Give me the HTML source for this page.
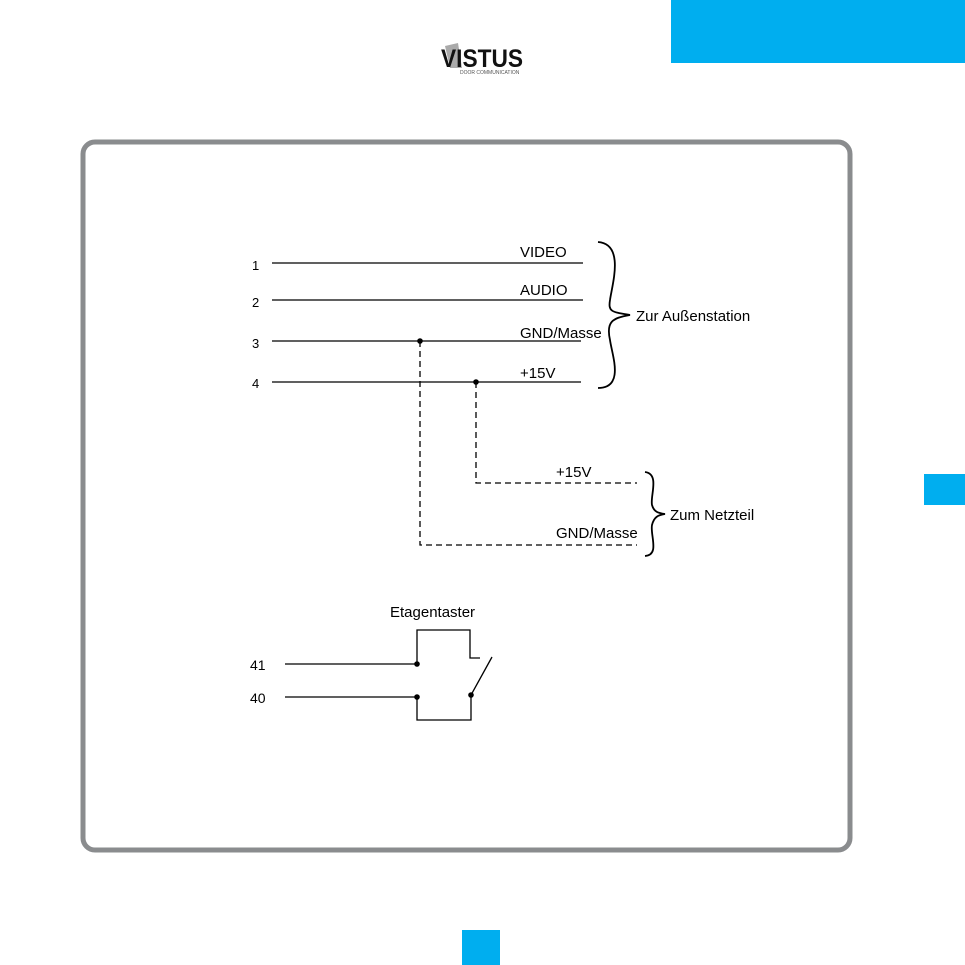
<!DOCTYPE html>
<html><head><style>
body{margin:0;width:965px;height:965px;background:#fff;overflow:hidden;position:relative;font-family:"Liberation Sans",sans-serif}
</style></head><body>
<div style="position:absolute;left:671px;top:0;width:294px;height:63px;background:#00aeef"></div>
<div style="position:absolute;left:924px;top:474px;width:41px;height:31px;background:#00aeef"></div>
<div style="position:absolute;left:462px;top:930px;width:38px;height:35px;background:#00aeef"></div>
<svg width="965" height="965" style="position:absolute;left:0;top:0" font-family="Liberation Sans, sans-serif">
<polygon points="445,46 458,43 462,68 450,68" fill="#aaa"/>
<text x="441" y="67" font-size="25" font-weight="bold" fill="#111" textLength="82" lengthAdjust="spacingAndGlyphs">VISTUS</text>
<text x="460" y="74" font-size="5" fill="#555">DOOR COMMUNICATION</text>
<rect x="83" y="142" width="767" height="708" rx="12" fill="none" stroke="#8a8c8e" stroke-width="5"/>
<g stroke="#000" stroke-width="1.3" fill="none">
<line x1="272" y1="263" x2="583" y2="263"/>
<line x1="272" y1="300" x2="583" y2="300"/>
<line x1="272" y1="341" x2="581" y2="341"/>
<line x1="272" y1="382" x2="581" y2="382"/>
<path d="M420,341 V545 H637" stroke-dasharray="6,4"/>
<path d="M476,382 V483 H637" stroke-dasharray="6,4"/>
<path d="M598,242 C625,244 612,285 610,300 C608,312 612,312 630,315 C612,318 606,322 610,340 C612,355 625,388 598,388" stroke-width="1.8"/>
<path d="M645,472 C660,474 650,496 652,505 C654,512 658,513 665,514 C658,515 654,517 652,525 C650,535 660,555 645,556" stroke-width="1.8"/>
<path d="M285,664 H417 V630 H470 V658 H480"/>
<path d="M285,697 H417 V720 H471 V695 L492,657"/>
</g>
<g fill="#000">
<circle cx="420" cy="341" r="2.8"/><circle cx="476" cy="382" r="2.8"/>
<circle cx="417" cy="664" r="2.8"/><circle cx="417" cy="697" r="2.8"/><circle cx="471" cy="695" r="2.8"/>
</g>
<g font-size="15" fill="#000">
<text x="252" y="270" font-size="13">1</text><text x="252" y="307" font-size="13">2</text><text x="252" y="348" font-size="13">3</text><text x="252" y="388" font-size="13">4</text>
<text x="520" y="257">VIDEO</text><text x="520" y="295">AUDIO</text><text x="520" y="338">GND/Masse</text><text x="520" y="378">+15V</text>
<text x="636" y="321">Zur Außenstation</text>
<text x="556" y="477">+15V</text><text x="556" y="538">GND/Masse</text>
<text x="670" y="520">Zum Netzteil</text>
<text x="390" y="617">Etagentaster</text>
<text x="250" y="670" font-size="14">41</text><text x="250" y="703" font-size="14">40</text>
</g>
</svg>
</body></html>
